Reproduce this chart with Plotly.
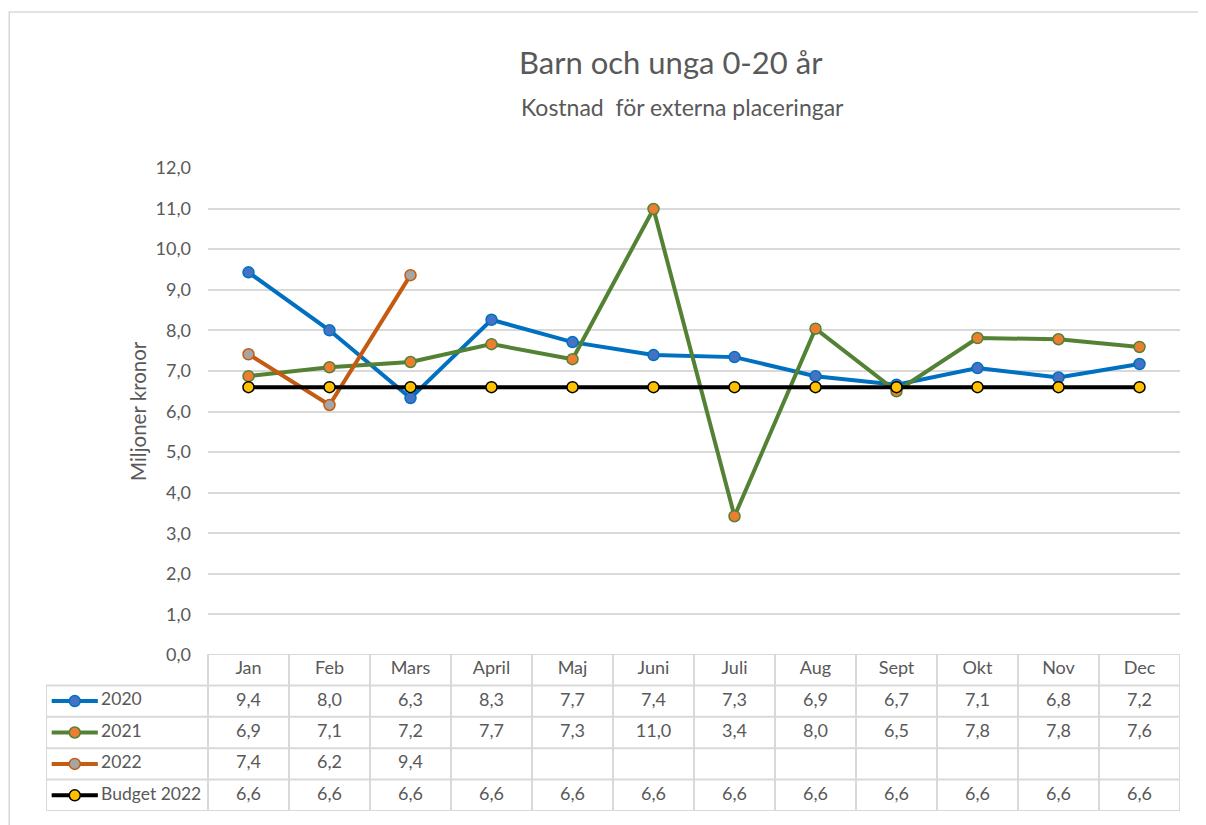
import plotly.graph_objects as go

# Data
months = ["Jan", "Feb", "Mars", "April", "Maj", "Juni", "Juli", "Aug", "Sept", "Okt", "Nov", "Dec"]
v2020 = [9.43, 8.00, 6.33, 8.26, 7.71, 7.39, 7.34, 6.87, 6.66, 7.07, 6.84, 7.17]
v2021 = [6.87, 7.09, 7.22, 7.66, 7.29, 10.99, 3.42, 8.04, 6.50, 7.81, 7.78, 7.59]
v2022 = [7.41, 6.16, 9.36]
budget2022 = [6.6, 6.6, 6.6, 6.6, 6.6, 6.6, 6.6, 6.6, 6.6, 6.6, 6.6, 6.6]
series_names = ["2020", "2021", "2022", "Budget 2022"]

W, H = 1206, 825
OFF = 8  # page body margin in the browser
TEXT = '#595959'
GRID = '#d9d9d9'
FONT = 'Lato, Liberation Sans, sans-serif'

styles = {
    # name: (line colour, marker fill, marker border)
    '2020': ('#0070c0', '#4472c4', '#0070c0'),
    '2021': ('#548235', '#ed7d31', '#548235'),
    '2022': ('#c55a11', '#a5a5a5', '#c55a11'),
    'Budget 2022': ('#000000', '#ffc000', '#000000'),
}
values = dict(zip(series_names, [v2020, v2021, v2022, budget2022]))


def fmt(v):
    return f"{v:.1f}".replace('.', ',')


def px(p):
    return (p - OFF) / W


def py(p):
    return 1 - (p - OFF) / H


fig = go.Figure()
x_idx = list(range(len(months)))

# main lines
for name in series_names:
    lc, mf, ml = styles[name]
    vals = values[name]
    fig.add_trace(go.Scatter(
        x=x_idx[:len(vals)], y=vals, mode='lines+markers', name=name,
        line=dict(color=lc, width=4),
        marker=dict(size=11, color=mf, line=dict(color=ml, width=1.5)),
        xaxis='x', yaxis='y', showlegend=False
    ))

# data table under the plot: header row 0, series rows 1..4
cell_font = dict(size=18, color=TEXT, family=FONT)
fig.add_trace(go.Scatter(
    x=x_idx, y=[0] * len(months), mode='text', text=months,
    textfont=cell_font, xaxis='x2', yaxis='y2', showlegend=False, hoverinfo='skip'
))
for r, name in enumerate(series_names, start=1):
    lc, mf, ml = styles[name]
    vals = values[name]
    fig.add_trace(go.Scatter(
        x=x_idx[:len(vals)], y=[r] * len(vals), mode='text',
        text=[fmt(v) for v in vals], textfont=cell_font,
        xaxis='x2', yaxis='y2', showlegend=False, hoverinfo='skip'
    ))
    # legend key in the first column
    fig.add_trace(go.Scatter(
        x=[-2.43, -1.86], y=[r, r], mode='lines',
        line=dict(color=lc, width=4),
        xaxis='x2', yaxis='y2', showlegend=False, hoverinfo='skip'
    ))
    fig.add_trace(go.Scatter(
        x=[-2.145], y=[r], mode='markers',
        marker=dict(size=11, color=mf, line=dict(color=ml, width=1.5)),
        xaxis='x2', yaxis='y2', showlegend=False, hoverinfo='skip'
    ))
    fig.add_trace(go.Scatter(
        x=[-1.82], y=[r], mode='text', text=[name], textposition='middle right',
        textfont=dict(size=17.5, color=TEXT, family=FONT),
        xaxis='x2', yaxis='y2', showlegend=False, hoverinfo='skip'
    ))

# table grid lines
n = len(months)
nrows = len(series_names)
line_style = dict(color=GRID, width=2)
fig.add_shape(type='line', xref='x2', yref='y2', x0=-0.5, x1=n - 0.5,
              y0=-0.5, y1=-0.5, line=line_style, layer='below')
for r in range(nrows + 1):
    fig.add_shape(type='line', xref='x2', yref='y2', x0=-2.5, x1=n - 0.5,
                  y0=r + 0.5, y1=r + 0.5, line=line_style, layer='below')
fig.add_shape(type='line', xref='x2', yref='y2', x0=-2.5, x1=-2.5,
              y0=0.5, y1=nrows + 0.5, line=line_style, layer='below')
for c in range(n + 1):
    fig.add_shape(type='line', xref='x2', yref='y2', x0=c - 0.5, x1=c - 0.5,
                  y0=-0.5, y1=nrows + 0.5, line=line_style, layer='below')

# outer chart frame
fig.add_shape(type='rect', xref='paper', yref='paper',
              x0=0.001, x1=1.05, y0=-0.05, y1=py(12),
              line=dict(color=GRID, width=1.5), layer='below')

# titles
fig.add_annotation(text='Barn och unga 0-20 år', xref='paper', yref='paper',
                   x=px(671), y=py(62), xanchor='center', yanchor='middle',
                   showarrow=False, font=dict(size=31, color=TEXT, family=FONT))
fig.add_annotation(text='Kostnad  för externa placeringar', xref='paper', yref='paper',
                   x=px(683), y=py(107), xanchor='center', yanchor='middle',
                   showarrow=False, font=dict(size=23, color=TEXT, family=FONT))
fig.add_annotation(text='Miljoner kronor', xref='paper', yref='paper',
                   x=px(138), y=py(411), xanchor='center', yanchor='middle',
                   showarrow=False, textangle=-90,
                   font=dict(size=20.5, color=TEXT, family=FONT))

fig.update_layout(
    width=W, height=H,
    margin=dict(l=0, r=0, t=0, b=0, autoexpand=False),
    plot_bgcolor='rgba(0,0,0,0)', paper_bgcolor='white',
    separators=',.',
    font=dict(family=FONT, color=TEXT, size=15),
    xaxis=dict(domain=[px(208), px(1180)], range=[-0.5, n - 0.5],
               showgrid=False, showticklabels=False, zeroline=False,
               showline=False, anchor='y'),
    yaxis=dict(domain=[py(655), py(168)], range=[0, 12], dtick=1,
               tickformat='.1f', gridcolor=GRID, gridwidth=2, zeroline=False,
               showline=False, ticklabelstandoff=16,
               tickfont=dict(size=18, color=TEXT, family=FONT), anchor='x'),
    xaxis2=dict(domain=[px(46), px(1180)], range=[-2.5, n - 0.5], visible=False,
                anchor='y2'),
    yaxis2=dict(domain=[py(811), py(654)], range=[nrows + 0.5, -0.5],
                visible=False, anchor='x2'),
)

fig.write_html("out.html")
